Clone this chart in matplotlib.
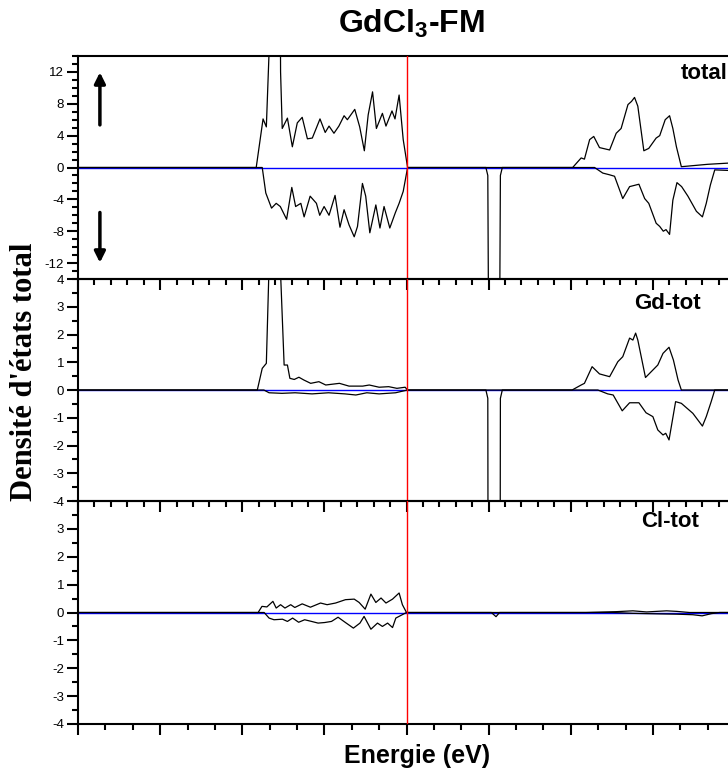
import matplotlib.pyplot as plt
from matplotlib.ticker import MultipleLocator

# energie (eV), niveau de Fermi a 0
# --- total, spin up
e_tot_up = [-12, -5.49, -5.33, -5.24, -5.12, -5.02, -4.98, -4.64, -4.60, -4.54, -4.35, -4.17, -3.99, -3.81,
            -3.62, -3.44, -3.16, -2.97, -2.83, -2.65, -2.47, -2.28, -2.16, -1.89, -1.71, -1.54,
            -1.40, -1.24, -1.10, -0.88, -0.75, -0.53, -0.42, -0.27, -0.12, 0.04,
            6.07, 6.38, 6.50, 6.69, 6.84, 7.05, 7.42, 7.66, 7.84, 8.09, 8.22, 8.33, 8.45,
            8.67, 8.85, 9.12, 9.25, 9.45, 9.61, 9.73, 9.86, 10.04, 11.0, 12]
dos_tot_up = [0, 0, 3.9, 6.1, 5.1, 14.5, 42, 42, 12, 4.9, 6.2, 2.6, 5.6, 6.3,
              3.6, 3.7, 6.1, 4.4, 5.2, 4.3, 5.2, 6.5, 6.0, 7.3, 5.1, 2.1,
              6.6, 9.5, 4.9, 6.8, 5.2, 7.1, 6.1, 9.1, 3.5, 0,
              0, 1.2, 1.05, 3.5, 3.9, 2.5, 2.2, 4.3, 4.9, 7.9, 8.3, 8.8, 7.7,
              2.1, 2.4, 3.7, 4.0, 6.0, 6.5, 4.9, 2.6, 0.1, 0.4, 0.6]
# --- total, spin down
e_tot_dn = [-12, -5.27, -5.14, -4.93, -4.76, -4.61, -4.38, -4.19, -4.05, -3.86, -3.74, -3.52, -3.29,
            -3.17, -3.01, -2.83, -2.61, -2.43, -2.28, -2.10, -1.91, -1.79, -1.61, -1.49, -1.34,
            -1.12, -0.97, -0.82, -0.61, -0.41, -0.27, -0.12, 0.04,
            2.90, 2.97, 3.03, 3.37, 3.43, 3.50,
            6.87, 7.17, 7.40, 7.60, 7.90, 8.15, 8.49, 8.70, 8.85, 9.12, 9.25, 9.38, 9.48, 9.61,
            9.73, 9.88, 10.05, 10.28, 10.59, 10.81, 10.95, 11.10, 11.26, 12]
dos_tot_dn = [0, 0, -3.2, -5.1, -4.5, -4.9, -6.5, -2.5, -4.9, -4.5, -6.2, -3.6, -4.5,
              -6.0, -4.9, -6.0, -3.5, -7.5, -5.3, -7.2, -8.7, -7.4, -2.0, -3.6, -8.2,
              -4.7, -7.6, -4.9, -7.6, -5.7, -4.5, -3.0, 0,
              0, -1, -42, -42, -1, 0,
              0, -0.7, -0.9, -1.1, -3.9, -2.4, -2.1, -3.9, -4.5, -7.0, -7.4, -8.0, -7.8, -8.4,
              -4.1, -1.9, -2.4, -3.6, -5.5, -6.2, -4.5, -2.2, -0.3, -0.4]

# --- Gd-tot
e_gd_up = [-12, -5.45, -5.27, -5.12, -5.02, -4.98, -4.64, -4.60, -4.47, -4.35, -4.26, -4.10, -3.93,
           -3.75, -3.50, -3.20, -2.95, -2.45, -2.10, -1.60, -1.36, -1.00, -0.65, -0.35, -0.05, 0.04,
           6.05, 6.38, 6.50, 6.78, 7.05, 7.42, 7.72, 7.90, 8.15, 8.27, 8.37, 8.45, 8.73,
           9.00, 9.18, 9.37, 9.59, 9.75, 9.92, 10.04, 12]
dos_gd_up = [0, 0, 0.78, 0.96, 4.5, 40, 40, 4.2, 0.9, 0.9, 0.42, 0.38, 0.46,
             0.36, 0.24, 0.3, 0.18, 0.24, 0.14, 0.14, 0.18, 0.1, 0.12, 0.06, 0.1, 0,
             0, 0.18, 0.24, 0.84, 0.58, 0.48, 1.02, 1.2, 1.87, 1.8, 2.05, 1.8, 0.45,
             0.72, 0.9, 1.32, 1.54, 1.08, 0.36, 0, 0]
e_gd_dn = [-12, -5.21, -5.02, -4.55, -4.07, -3.45, -2.85, -2.25, -1.85, -1.45, -1.00, -0.40, 0.04,
           2.90, 2.97, 3.03, 3.37, 3.43, 3.50,
           6.99, 7.35, 7.55, 7.88, 8.15, 8.49, 8.75, 9.00, 9.18, 9.37, 9.47, 9.59,
           9.83, 10.04, 10.46, 10.81, 10.95, 11.13, 11.26, 12]
dos_gd_dn = [0, 0, -0.1, -0.12, -0.1, -0.14, -0.1, -0.14, -0.18, -0.1, -0.14, -0.1, 0,
             0, -0.3, -40, -40, -0.3, 0,
             0, -0.14, -0.18, -0.75, -0.46, -0.46, -0.82, -0.96, -1.44, -1.62, -1.56, -1.8,
             -0.42, -0.48, -0.84, -1.3, -0.96, -0.42, 0, 0]

# --- Cl-tot
e_cl_up = [-12, -5.42, -5.28, -5.10, -4.88, -4.76, -4.60, -4.44, -4.23, -4.08, -3.81, -3.51,
           -3.14, -2.90, -2.59, -2.23, -1.91, -1.73, -1.51, -1.30, -1.12, -0.93, -0.75, -0.51,
           -0.27, -0.15, 0,
           6.56, 7.66, 8.27, 8.77, 9.50, 9.87, 10.34, 12]
dos_cl_up = [0, 0, 0.22, 0.2, 0.4, 0.16, 0.28, 0.16, 0.28, 0.18, 0.31, 0.19,
             0.34, 0.28, 0.34, 0.46, 0.48, 0.36, 0.12, 0.66, 0.36, 0.52, 0.34, 0.48,
             0.7, 0.28, 0,
             0, 0.03, 0.06, 0.02, 0.06, 0.04, 0, 0]
e_cl_dn = [-12, -5.20, -5.02, -4.84, -4.53, -4.35, -4.16, -3.94, -3.72, -3.47, -3.23, -2.99, -2.74,
           -2.50, -2.23, -1.94, -1.70, -1.55, -1.30, -1.06, -0.88, -0.69, -0.51, -0.39, 0,
           3.10, 3.27, 3.40,
           7.53, 8.27, 9.25, 9.87, 10.46, 10.80, 11.14, 11.44, 12]
dos_cl_dn = [0, 0, -0.2, -0.26, -0.24, -0.32, -0.2, -0.35, -0.26, -0.32, -0.38, -0.36, -0.32,
             -0.17, -0.36, -0.56, -0.38, -0.14, -0.6, -0.38, -0.5, -0.38, -0.54, -0.2, 0,
             0, -0.15, 0,
             0, -0.03, -0.05, -0.06, -0.08, -0.12, -0.04, 0, 0]

panels = [
    (e_tot_up, dos_tot_up, e_tot_dn, dos_tot_dn, "total", (-14, 14)),
    (e_gd_up, dos_gd_up, e_gd_dn, dos_gd_dn, "Gd-tot", (-4, 4)),
    (e_cl_up, dos_cl_up, e_cl_dn, dos_cl_dn, "Cl-tot", (-4, 4)),
]

plt.rcParams['font.family'] = ['Liberation Sans', 'DejaVu Sans']
plt.rcParams['axes.unicode_minus'] = False
plt.rcParams['mathtext.fontset'] = 'custom'
plt.rcParams['mathtext.bf'] = 'Liberation Sans:bold'
plt.rcParams['mathtext.rm'] = 'Liberation Sans'

fig = plt.figure(figsize=(7.28, 7.76), dpi=100)
left, width = 78 / 728, (735 - 78) / 728
bornes = [(56, 279), (279, 501), (501, 724)]  # haut/bas en pixels

axes = []
for i, (eu, du, ed, dd, nom, ylim) in enumerate(panels):
    top, bot = bornes[i]
    ax = fig.add_axes([left, 1 - bot / 776, width, (bot - top) / 776])
    ax.patch.set_visible(False)
    ax.axhline(0, color='#0000ff', lw=1, zorder=1)
    ax.plot(eu, du, color='black', lw=0.9, zorder=2)
    ax.plot(ed, dd, color='black', lw=0.9, zorder=2)
    ax.axvline(0, color='red', lw=1, zorder=3)
    ax.set_xlim(-12, 12)
    ax.set_ylim(*ylim)

    for s in ax.spines.values():
        s.set_linewidth(1.5)
    ax.spines['right'].set_visible(False)

    ax.xaxis.set_major_locator(MultipleLocator(3))
    if i < 2:
        ax.xaxis.set_minor_locator(MultipleLocator(0.6))
    else:
        ax.xaxis.set_minor_locator(MultipleLocator(1))
    ax.tick_params(axis='x', which='both', direction='out', top=False, labelbottom=False, width=1.5)
    ax.tick_params(axis='x', which='major', length=8)
    ax.tick_params(axis='x', which='minor', length=4.5)

    if i == 0:
        ax.set_yticks([-12, -8, -4, 0, 4, 8, 12])
        ax.yaxis.set_minor_locator(MultipleLocator(1))
    elif i == 1:
        ax.set_yticks(range(-4, 5))
        ax.yaxis.set_minor_locator(MultipleLocator(0.5))
    else:
        ax.set_yticks(range(-4, 4))
        ax.yaxis.set_minor_locator(MultipleLocator(0.5))
    ax.tick_params(axis='y', which='both', direction='out', width=1.5, labelsize=9.5, pad=2)
    ax.tick_params(axis='y', which='major', length=8)
    ax.tick_params(axis='y', which='minor', length=4.5)
    axes.append(ax)

# etiquettes des panneaux
axes[0].text(11.72, 11.85, "total", ha='right', va='center', fontsize=16, fontweight='bold')
axes[1].text(9.54, 3.1, "Gd-tot", ha='center', va='center', fontsize=16, fontweight='bold')
axes[2].text(9.63, 3.26, "Cl-tot", ha='center', va='center', fontsize=16, fontweight='bold')

# fleches spin up / spin down
axes[0].annotate("", xy=(-11.2, 12.3), xytext=(-11.2, 5),
                 arrowprops=dict(arrowstyle='-|>', color='black', lw=2.5, mutation_scale=16))
axes[0].annotate("", xy=(-11.2, -12.3), xytext=(-11.2, -5.3),
                 arrowprops=dict(arrowstyle='-|>', color='black', lw=2.5, mutation_scale=16))

fig.text(411 / 728, 1 - 33 / 776, r"GdCl$_\mathbf{3}$-FM", ha='center', va='baseline',
         fontsize=23, fontweight='bold')
fig.text(417 / 728, 1 - 763 / 776, "Energie (eV)", ha='center', va='baseline',
         fontsize=18, fontweight='bold')
fig.text(25 / 728, 1 - 372 / 776, "Densité d'états total", ha='center', va='center',
         rotation=90, fontsize=22, fontweight='bold', family=['Liberation Serif', 'DejaVu Serif'])

fig.savefig("out.png", dpi=100)
